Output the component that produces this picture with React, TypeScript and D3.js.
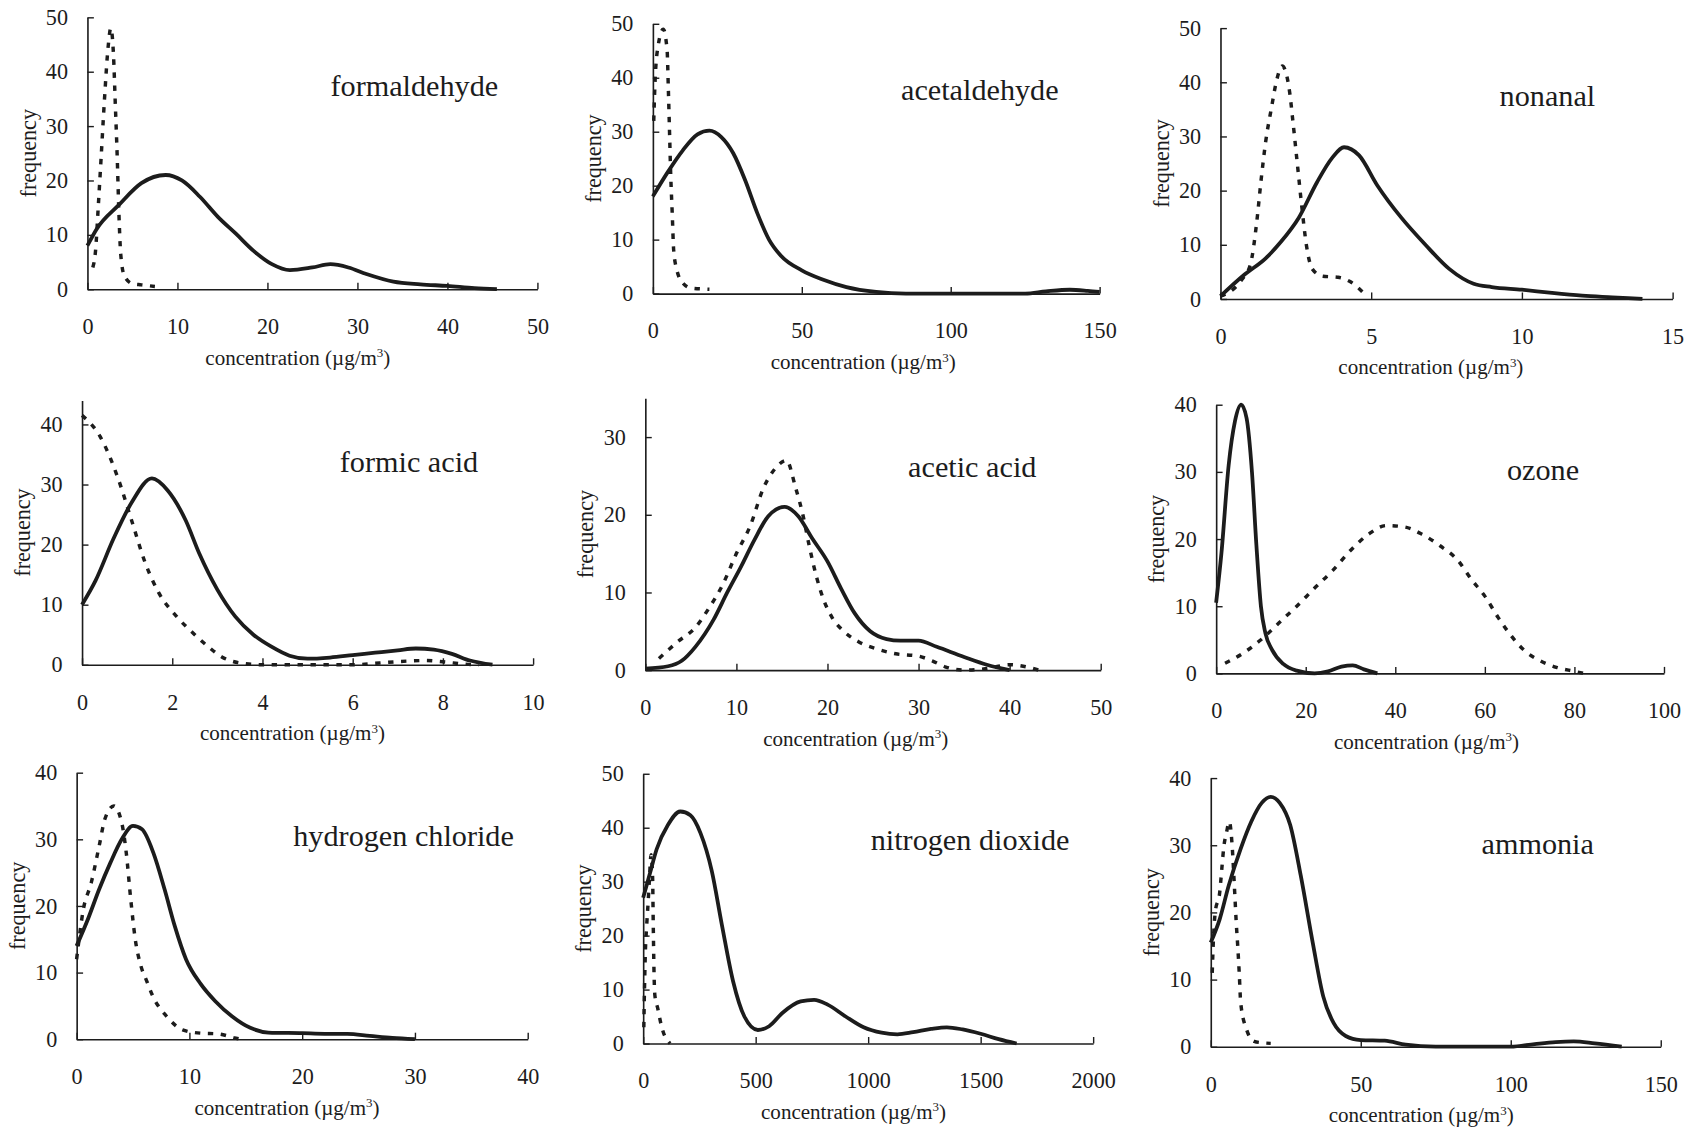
import React, { useEffect, useRef } from 'react';
import * as d3 from 'd3';

type Pt = [number, number];

// panel titles, axis ranges and tick labels
const panelNames = ['formaldehyde', 'acetaldehyde', 'nonanal', 'formic acid', 'acetic acid', 'ozone', 'hydrogen chloride', 'nitrogen dioxide', 'ammonia'];
const xMaxes = [50, 150, 15, 10, 50, 100, 40, 2000, 150];
const yMaxes = [50, 50, 50, 44, 35, 40, 40, 50, 40];
const xTickValues = [
  [0, 10, 20, 30, 40, 50], [0, 50, 100, 150], [0, 5, 10, 15],
  [0, 2, 4, 6, 8, 10], [0, 10, 20, 30, 40, 50], [0, 20, 40, 60, 80, 100],
  [0, 10, 20, 30, 40], [0, 500, 1000, 1500, 2000], [0, 50, 100, 150],
];
const yTickValues = [
  [0, 10, 20, 30, 40, 50], [0, 10, 20, 30, 40, 50], [0, 10, 20, 30, 40, 50],
  [0, 10, 20, 30, 40], [0, 10, 20, 30], [0, 10, 20, 30, 40],
  [0, 10, 20, 30, 40], [0, 10, 20, 30, 40, 50], [0, 10, 20, 30, 40],
];

// solid curves
const formaldehydeSolid: Pt[] = [[0, 8], [1, 11], [3.5, 15.5], [6, 19.5], [8.7, 21], [10.5, 20], [12.5, 17], [14.5, 13.3], [16.5, 10.2], [18.5, 7], [20.5, 4.6], [22.5, 3.5], [25, 4], [27, 4.6], [29, 4], [31, 2.8], [34, 1.4], [37, 0.9], [40, 0.6], [43, 0.2], [45.5, 0]];
const acetaldehydeSolid: Pt[] = [[0, 18], [5, 22.5], [10, 26.5], [15, 29.5], [19, 30.2], [23, 29], [27, 26], [31, 21], [35, 15], [39, 10], [43, 7], [50, 4.3], [57, 2.6], [65, 1.2], [75, 0.3], [85, 0], [100, 0], [125, 0], [132, 0.4], [140, 0.7], [146, 0.5], [150, 0.3]];
const nonanalSolid: Pt[] = [[0, 0.5], [0.8, 4.5], [1.5, 7.5], [2, 10.5], [2.6, 15], [3.2, 21.5], [3.7, 26], [4.1, 28], [4.6, 26.5], [5.2, 21], [6, 15], [6.8, 10], [7.6, 5.5], [8.4, 2.8], [9, 2.2], [10, 1.7], [11, 1.1], [12, 0.6], [13, 0.3], [14, 0]];
const formicSolid: Pt[] = [[0, 10], [0.3, 14], [0.7, 21], [1.1, 27], [1.55, 31], [1.9, 29], [2.3, 24], [2.6, 18.5], [3, 12.5], [3.4, 8], [3.8, 5], [4.2, 3], [4.6, 1.5], [5, 1], [5.5, 1.2], [6, 1.6], [6.5, 2], [7, 2.4], [7.4, 2.7], [7.8, 2.5], [8.2, 1.8], [8.6, 0.7], [9.1, 0]];
const aceticSolid: Pt[] = [[0, 0.2], [2.5, 0.5], [4, 1.2], [5.5, 3], [7.5, 6.5], [9, 10], [10.5, 13.3], [12, 16.8], [13.5, 19.8], [15.3, 21], [16.8, 19.8], [18.3, 17], [20, 14], [21.5, 10.5], [23, 7.3], [24.7, 5], [26.5, 4], [28, 3.8], [30, 3.8], [32, 3], [35, 1.7], [37.5, 0.7], [40, 0]];
const ozoneSolid: Pt[] = [[0, 10.5], [1.2, 18], [2.8, 31], [4.2, 37.5], [5.6, 40], [6.8, 38], [8, 30], [9, 19], [10, 10], [11, 6], [12.5, 3.5], [15, 1.4], [18, 0.4], [22, 0], [25, 0.3], [28, 1], [30.5, 1.2], [33, 0.6], [36, 0]];
const hclSolid: Pt[] = [[0, 14], [1, 18], [2, 22.5], [3, 26.5], [4, 30], [5, 32], [5.8, 31.5], [6.8, 28], [7.8, 22.5], [8.7, 17], [9.7, 12], [11, 8.3], [12.3, 5.7], [13.8, 3.4], [15.4, 1.7], [17, 1], [20, 0.9], [22, 0.8], [24, 0.8], [26, 0.5], [28, 0.2], [30, 0]];
const no2Solid: Pt[] = [[0, 27], [30, 31.5], [60, 36], [110, 40.5], [165, 43], [210, 42.3], [255, 39], [305, 32], [350, 22], [400, 11.5], [450, 5], [510, 2.5], [560, 3.2], [620, 5.7], [700, 7.8], [760, 8.1], [820, 7.2], [900, 5], [980, 3], [1060, 2], [1130, 1.7], [1200, 2.1], [1280, 2.7], [1350, 3], [1420, 2.6], [1500, 1.8], [1580, 0.8], [1660, 0]];
const ammoniaSolid: Pt[] = [[0, 15.5], [3, 19], [6, 24], [10, 29.5], [13.5, 33.5], [17, 36.3], [20, 37.2], [23, 36.3], [26.5, 33], [30, 25.5], [34, 15.5], [37.5, 7.5], [41, 3.5], [45, 1.6], [50, 1], [58, 0.9], [65, 0.3], [75, 0], [100, 0], [108, 0.4], [115, 0.7], [121, 0.8], [128, 0.5], [137, 0]];

// dashed curves
const formaldehydeDashed: Pt[] = [[0.6, 4], [0.9, 7], [1.2, 15], [1.5, 23.5], [1.9, 35], [2.3, 44.5], [2.6, 48], [2.9, 43], [3.1, 34], [3.3, 25], [3.5, 14], [3.7, 6.5], [4.1, 2.5], [5, 1], [6, 0.8], [7.5, 0.5]];
const acetaldehydeDashed: Pt[] = [[0.3, 32], [0.8, 40], [1.8, 46], [3.5, 49], [4.8, 45], [5.2, 38], [5.6, 30], [6, 22], [6.5, 15], [7, 8], [8, 4.5], [10, 2], [13, 1], [19, 0.8]];
const nonanalDashed: Pt[] = [[0, 0.5], [0.7, 3.5], [1, 6.5], [1.2, 14], [1.35, 22], [1.5, 29], [1.7, 35.5], [1.85, 40], [2.05, 43], [2.3, 38], [2.4, 33], [2.55, 25], [2.7, 17], [2.85, 10], [3.05, 5.5], [3.4, 4.2], [3.9, 4], [4.3, 3.2], [4.8, 0.8]];
const formicDashed: Pt[] = [[0, 41.5], [0.4, 38], [0.8, 31], [1.1, 24], [1.4, 17], [1.7, 12], [2.1, 8], [2.5, 5], [2.8, 3], [3.1, 1.3], [3.5, 0.3], [4, 0], [5, 0], [6, 0], [6.6, 0.3], [7.2, 0.6], [7.6, 0.7], [8, 0.5], [8.5, 0.1], [8.8, 0]];
const aceticDashed: Pt[] = [[1.5, 1.5], [3.5, 3.6], [5.5, 5.5], [7, 8], [8.5, 11], [10, 15], [11.5, 18.5], [13, 23.5], [14.3, 26], [15.5, 27], [16.5, 23.5], [17.3, 20], [18, 16], [18.8, 12], [19.6, 9], [20.5, 6.8], [21.8, 5], [23.5, 3.6], [25.5, 2.7], [27.5, 2.1], [30, 1.8], [31.5, 1.2], [33, 0.4], [35, 0], [37.5, 0.2], [40, 0.7], [41.5, 0.5], [43.2, 0]];
const ozoneDashed: Pt[] = [[2, 1.5], [6, 3], [10, 5], [14, 7.5], [18, 10], [22, 12.7], [26, 15.3], [30, 18.3], [34, 20.7], [38, 22], [42, 21.8], [46, 20.7], [50, 19], [54, 16.8], [57, 14], [60, 11.5], [63, 8.3], [66, 5.5], [69, 3.3], [72, 2], [76, 0.9], [80, 0.3], [82, 0]];
const hclDashed: Pt[] = [[0, 12], [0.6, 19.5], [1.3, 23.5], [2, 29], [2.5, 33], [3.3, 35], [4, 32.5], [4.4, 28], [4.8, 21], [5.2, 15], [5.7, 11], [6.2, 8.8], [6.8, 6.3], [8, 3.4], [9.4, 1.4], [11, 0.9], [12.5, 0.8], [14, 0.2], [14.5, 0]];
const no2Dashed: Pt[] = [[3, 3], [6, 10], [10, 17], [16, 22], [22, 26], [28, 30.5], [35, 35], [42, 31], [45, 22], [48, 14], [52, 9], [65, 6.5], [80, 3.5], [95, 1.5], [110, 0.5], [120, 0]];
const ammoniaDashed: Pt[] = [[0.5, 11], [0.9, 16], [1.5, 20], [3, 23], [3.7, 26.5], [4.3, 29.5], [5.3, 32], [6.2, 33.5], [7.2, 29.5], [7.7, 25.5], [8.1, 22], [8.5, 18.5], [9, 15], [9.5, 11], [10, 6.5], [12, 2.5], [14.5, 0.8], [17, 0.6], [20, 0.5]];

const solidSeries = [formaldehydeSolid, acetaldehydeSolid, nonanalSolid, formicSolid, aceticSolid, ozoneSolid, hclSolid, no2Solid, ammoniaSolid];
const dashedSeries = [formaldehydeDashed, acetaldehydeDashed, nonanalDashed, formicDashed, aceticDashed, ozoneDashed, hclDashed, no2Dashed, ammoniaDashed];

// plot boxes in a 1568 x 1049 drawing space
const layout = [
  { left: 81, width: 417, zero: 268, top: 16 },
  { left: 605, width: 414, zero: 272, top: 22 },
  { left: 1131, width: 419, zero: 277, top: 26 },
  { left: 76, width: 418, zero: 616, top: 371 },
  { left: 598, width: 422, zero: 621, top: 369 },
  { left: 1127, width: 415, zero: 624, top: 375 },
  { left: 71, width: 418, zero: 963, top: 716 },
  { left: 596, width: 417, zero: 967, top: 717 },
  { left: 1122, width: 417, zero: 970, top: 721 },
];

const FONT = "'Liberation Serif', 'Times New Roman', serif";
const INK = '#1c1c1c';

const App = () => {
  const svgRef = useRef<SVGSVGElement>(null);

  useEffect(() => {
    const svg = d3.select(svgRef.current);
    svg.selectAll('*').remove();

    svg.append('rect').attr('width', 1568).attr('height', 1049).attr('fill', '#fff');

    panelNames.forEach((name, i) => {
      const L = layout[i];
      const x = d3.scaleLinear().domain([0, xMaxes[i]]).range([L.left, L.left + L.width]);
      const y = d3.scaleLinear().domain([0, yMaxes[i]]).range([L.zero, L.top]);
      const g = svg.append('g');

      // x axis, ticks pointing inward
      const xa = g.append('g')
        .attr('transform', `translate(0,${L.zero})`)
        .call(d3.axisBottom(x).tickValues(xTickValues[i]).tickSizeInner(-6).tickSizeOuter(0).tickPadding(27).tickFormat(d3.format('d')));
      // y axis
      const ya = g.append('g')
        .attr('transform', `translate(${L.left},0)`)
        .call(d3.axisLeft(y).tickValues(yTickValues[i]).tickSizeInner(-6).tickSizeOuter(0).tickPadding(18).tickFormat(d3.format('d')));

      [xa, ya].forEach(a => {
        a.select('.domain').attr('stroke', INK).attr('stroke-width', 1.5);
        a.selectAll('.tick line').attr('stroke', INK).attr('stroke-width', 1.3);
        a.selectAll('.tick text')
          .attr('fill', INK)
          .style('font-family', FONT)
          .style('font-size', '20.5px');
      });

      // curves
      const line = d3.line<Pt>().x(d => x(d[0])).y(d => y(d[1])).curve(d3.curveMonotoneX);
      g.append('path')
        .attr('d', line(dashedSeries[i]))
        .attr('fill', 'none')
        .attr('stroke', INK)
        .attr('stroke-width', 3.2)
        .attr('stroke-dasharray', '5,7');
      g.append('path')
        .attr('d', line(solidSeries[i]))
        .attr('fill', 'none')
        .attr('stroke', INK)
        .attr('stroke-width', 3.5)
        .attr('stroke-linejoin', 'round');

      // labels
      g.append('text')
        .attr('x', L.left + 303)
        .attr('y', L.zero - 179)
        .attr('text-anchor', 'middle')
        .style('font-family', FONT)
        .style('font-size', '28px')
        .attr('fill', INK)
        .text(name);

      const xt = g.append('text')
        .attr('x', L.left + 195)
        .attr('y', L.zero + 70)
        .attr('text-anchor', 'middle')
        .style('font-family', FONT)
        .style('font-size', '19.5px')
        .attr('fill', INK);
      xt.append('tspan').text('concentration (\u00b5g/m');
      xt.append('tspan').attr('dy', -7).style('font-size', '12px').text('3');
      xt.append('tspan').attr('dy', 7).text(')');

      const midY = (L.zero + L.top) / 2;
      g.append('text')
        .attr('transform', `translate(${L.left - 55},${midY}) rotate(-90)`)
        .attr('text-anchor', 'middle')
        .attr('dominant-baseline', 'central')
        .style('font-family', FONT)
        .style('font-size', '20.5px')
        .attr('fill', INK)
        .text('frequency');
    });
  }, []);

  return (
    <svg
      ref={svgRef}
      width={1692}
      height={1132}
      viewBox="0 0 1568 1049"
      style={{ position: 'absolute', left: 0, top: 0, background: '#fff' }}
    />
  );
};

export default App;
